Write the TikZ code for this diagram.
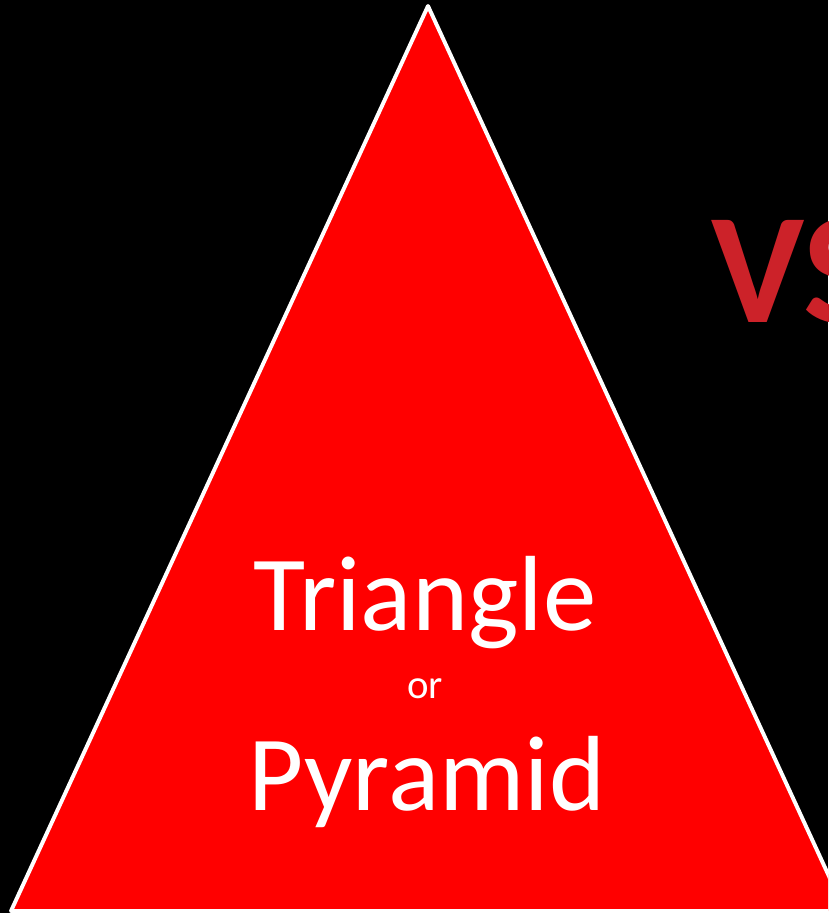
\documentclass[tikz,border=0pt]{standalone}
\usepackage{fontspec}
\setmainfont{Carlito}
\usepackage{tikz}
\usetikzlibrary{positioning,calc}
\definecolor{tri}{HTML}{FF0000}
\definecolor{vsred}{HTML}{CC2229}

\begin{document}
\begin{tikzpicture}[
  x=0.025cm,y=-0.025cm,
  label/.style={text=white,inner sep=0pt,anchor=base},
  big/.style={label,font=\fontsize{76}{76}\selectfont},
  small/.style={label,font=\fontsize{29}{29}\selectfont},
  vs/.style={text=vsred,inner sep=0pt,anchor=base west,font=\bfseries\fontsize{112}{112}\selectfont}
]
  \useasboundingbox (0,0) rectangle (828,913);
  \fill[black] (0,0) rectangle (828,913);
  \begin{scope}
    \clip (0,0) rectangle (828,913);
    \coordinate (top) at (428,6);
    \coordinate (bl) at (11,911);
    \coordinate (br) at (845,911);
    \filldraw[fill=tri,draw=white,line width=2.8pt,line join=round] (top) -- (bl) -- (br) -- cycle;

    \node[big] (tri) at (425,630) {Triangle};
    \node[small] (or) at (425,698) {or};
    \node[big] (pyr) at (427,810) {Pyramid};

    \node[vs] (vs) at (711,322) {VS};
  \end{scope}
\end{tikzpicture}
\end{document}
